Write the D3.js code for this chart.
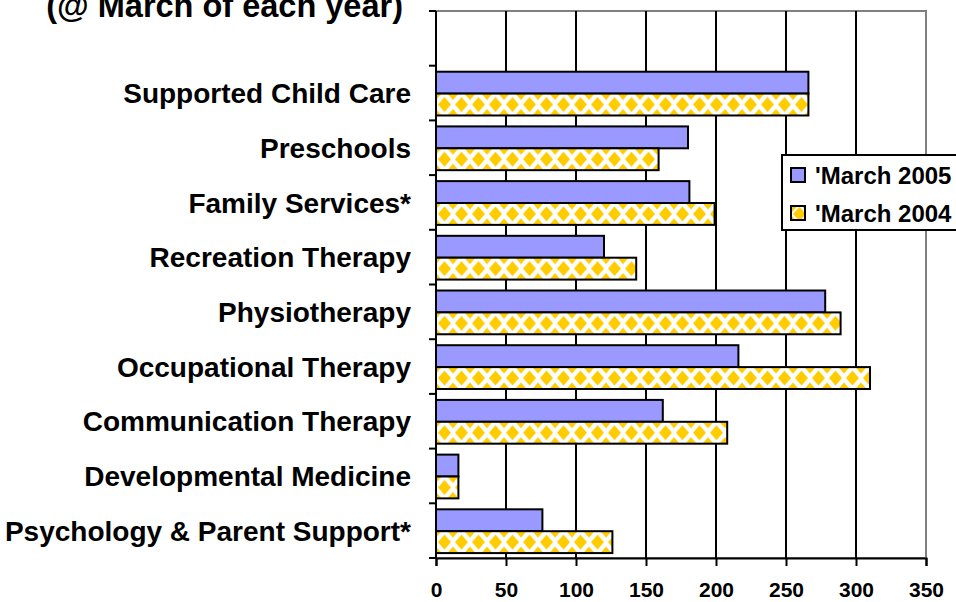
<!DOCTYPE html>
<html>
<head>
<meta charset="utf-8">
<script src="https://cdn.jsdelivr.net/npm/d3@7"></script>
<style>
  body { margin: 0; background: #fff; }
  text { font-family: "Liberation Sans", Arial, sans-serif; font-weight: bold; fill: #000; }
</style>
</head>
<body>
<svg id="chart" width="956" height="602"></svg>
<script>
// categories top to bottom (top slot is empty in the original)
categories = ["", "Supported Child Care", "Preschools", "Family Services*", "Recreation Therapy",
    "Physiotherapy", "Occupational Therapy", "Communication Therapy",
    "Developmental Medicine", "Psychology & Parent Support*"];
march2005 = [null, 266, 180, 181, 120, 278, 216, 162, 16, 76];
march2004 = [null, 266, 159, 199, 143, 289, 310, 208, 16, 126];
seriesNames = ["'March 2005", "'March 2004"];
xTicks = [0, 50, 100, 150, 200, 250, 300, 350];

svg = d3.select("#chart");
plotLeft = 436; plotRight = 926; plotTop = 11; plotBottom = 558;

x = d3.scaleLinear().domain([0, 350]).range([plotLeft, plotRight]);
slot = (plotBottom - plotTop) / categories.length;
y = d3.scaleBand().domain(d3.range(categories.length)).range([plotTop, plotBottom]).padding(0);
inner = d3.scaleBand().domain([0, 1]).range([slot * 0.11, slot * 0.91]);

defs = svg.append("defs");

// plot border (grey) and vertical gridlines (black)
svg.append("rect")
    .attr("x", plotLeft).attr("y", plotTop).attr("width", plotRight - plotLeft).attr("height", plotBottom - plotTop)
    .attr("fill", "none").attr("stroke", "#808080").attr("stroke-width", 2);
svg.selectAll("line.grid")
    .data(xTicks.slice(1, -1))
    .enter().append("line")
    .attr("class", "grid")
    .attr("x1", d => x(d)).attr("x2", d => x(d))
    .attr("y1", plotTop).attr("y2", plotBottom)
    .attr("stroke", "#000").attr("stroke-width", 2);

// blue bars
svg.selectAll("rect.b2005")
    .data(march2005.map((v, i) => ({v, i})).filter(d => d.v != null))
    .enter().append("rect")
    .attr("class", "b2005")
    .attr("x", x(0))
    .attr("y", d => y(d.i) + inner(0))
    .attr("width", d => x(d.v) - x(0))
    .attr("height", inner.bandwidth())
    .attr("fill", "#9999FF").attr("stroke", "#000").attr("stroke-width", 2);

// yellow diamond bars, one pattern per bar so the diamonds line up with the bar
function addPattern(id, px, py, h, hw, hh) {
    let p = defs.append("pattern")
        .attr("id", id).attr("patternUnits", "userSpaceOnUse")
        .attr("x", px).attr("y", py).attr("width", 17).attr("height", h);
    p.append("rect").attr("width", 17).attr("height", h).attr("fill", "#fff");
    let pts = [[8.5, h / 2], [0, -1], [17, -1], [0, h + 1], [17, h + 1]];
    pts.forEach(c => {
        p.append("path")
            .attr("d", `M${c[0] - hw},${c[1]}L${c[0]},${c[1] - hh}L${c[0] + hw},${c[1]}L${c[0]},${c[1] + hh}Z`)
            .attr("fill", "#FFCC00");
    });
}

data2004 = march2004.map((v, i) => ({v, i})).filter(d => d.v != null);
data2004.forEach(d => addPattern("dia" + d.i, x(0), y(d.i) + inner(1), inner.bandwidth(), 6.5, 7.5));
svg.selectAll("rect.b2004")
    .data(data2004)
    .enter().append("rect")
    .attr("class", "b2004")
    .attr("x", x(0))
    .attr("y", d => y(d.i) + inner(1))
    .attr("width", d => x(d.v) - x(0))
    .attr("height", inner.bandwidth())
    .attr("fill", d => "url(#dia" + d.i + ")").attr("stroke", "#000").attr("stroke-width", 2);

// y axis
yAxis = svg.append("g").attr("transform", `translate(${plotLeft},0)`);
yAxis.append("line").attr("x1", 0).attr("x2", 0).attr("y1", plotTop).attr("y2", plotBottom)
    .attr("stroke", "#000").attr("stroke-width", 2);
yAxis.selectAll("line.tick")
    .data(d3.range(categories.length + 1))
    .enter().append("line")
    .attr("x1", -7).attr("x2", 0)
    .attr("y1", d => plotTop + d * slot).attr("y2", d => plotTop + d * slot)
    .attr("stroke", "#000").attr("stroke-width", 2);
yAxis.selectAll("text")
    .data(categories)
    .enter().append("text")
    .attr("x", -25)
    .attr("y", (d, i) => y(i) + slot / 2)
    .attr("dy", "0.36em")
    .attr("text-anchor", "end")
    .attr("font-size", 28)
    .text(d => d);

// x axis
xAxis = d3.axisBottom(x).tickValues(xTicks).tickSize(8).tickPadding(16);
gx = svg.append("g").attr("transform", `translate(0,${plotBottom})`).call(xAxis);
gx.select(".domain").attr("stroke", "#000").attr("stroke-width", 2);
gx.selectAll(".tick line").attr("stroke", "#000").attr("stroke-width", 2);
gx.selectAll(".tick text").attr("font-size", 21).attr("font-family", null);

// title fragment
svg.append("text")
    .attr("x", 403).attr("y", 17)
    .attr("text-anchor", "end")
    .attr("font-size", 32.5)
    .text("(@ March of each year)");

// legend
legend = svg.append("g").attr("transform", "translate(782,155)");
legend.append("rect").attr("width", 200).attr("height", 75)
    .attr("fill", "#fff").attr("stroke", "#000").attr("stroke-width", 2);
addPattern("diaLegend", 791, 206, 14, 6.5, 7);
[0, 1].forEach(k => {
    legend.append("rect")
        .attr("x", 9).attr("y", 13 + k * 38).attr("width", 14).attr("height", 14)
        .attr("fill", k == 0 ? "#9999FF" : "url(#diaLegend)")
        .attr("stroke", "#000").attr("stroke-width", 2);
    legend.append("text")
        .attr("x", 33).attr("y", 20 + k * 38).attr("dy", "0.36em")
        .attr("font-size", 24)
        .text(seriesNames[k]);
});
</script>
</body>
</html>
